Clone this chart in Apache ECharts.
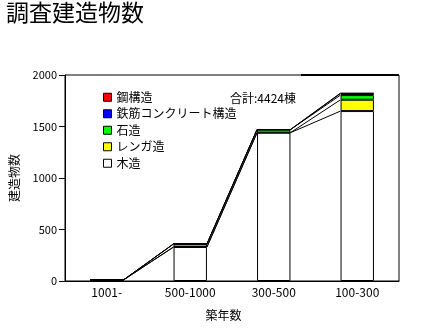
<!DOCTYPE html>
<html><head><meta charset="utf-8">
<script src="https://cdn.jsdelivr.net/npm/echarts@6/dist/echarts.min.js"></script>
<style>html,body{margin:0;padding:0;background:#fff}#c{width:424px;height:333px}</style>
</head><body><div id="c"></div>
<script>
var categories = ['1001-', '500-1000', '300-500', '100-300'];
var wood   = [10, 330, 1440, 1650];   // 木造
var brick  = [0, 0, 0, 110];          // レンガ造
var stone  = [0, 30, 30, 45];         // 石造
var rc     = [0, 0, 0, 15];           // 鉄筋コンクリート構造
var steel  = [0, 0, 0, 5];            // 鋼構造
var yTicks = [0, 500, 1000, 1500, 2000];
var totalLabel = '合計:4424棟';

var stackOrder = [
  {name: '木造', data: wood, color: '#ffffff'},
  {name: 'レンガ造', data: brick, color: '#ffff00'},
  {name: '石造', data: stone, color: '#00ff00'},
  {name: '鉄筋コンクリート構造', data: rc, color: '#0000ff'},
  {name: '鋼構造', data: steel, color: '#ff0000'}
];
var cum = [];
var run = categories.map(function(){return 0;});
stackOrder.forEach(function(s){
  run = run.map(function(v,i){return v + s.data[i];});
  cum.push(run.slice());
});
var lineData = [];
for (var i = 0; i < categories.length - 1; i++) {
  for (var k = 0; k < cum.length; k++) lineData.push([i, k]);
}
var FONT = '"Noto Sans CJK JP", sans-serif';
var chart = echarts.init(document.getElementById('c'));
var series = stackOrder.map(function(s){
  return {
    name: s.name, type: 'bar', stack: 'all', barWidth: '40%',
    data: s.data,
    itemStyle: {color: s.color, borderColor: '#000', borderWidth: 1},
    emphasis: {disabled: true}, animation: false
  };
});
series.push({
  type: 'custom', name: 'series-lines', silent: true, animation: false,
  data: lineData,
  renderItem: function(params, api){
    var p = lineData[params.dataIndex];
    var i = p[0], k = p[1];
    var band = api.size([1, 0])[0];
    var half = band * 0.2;
    var a = api.coord([i, cum[k][i]]);
    var b = api.coord([i + 1, cum[k][i + 1]]);
    return {type: 'line', shape: {x1: a[0] + half, y1: a[1], x2: b[0] - half, y2: b[1]},
      style: {stroke: '#000', lineWidth: 1}};
  },
  z: 3
});
chart.setOption({
  animation: false,
  title: [
    {text: '調査建造物数', left: 6, top: 1, padding: 0,
     textStyle: {fontFamily: FONT, fontSize: 23, fontWeight: 'normal', color: '#000'}},
    {text: totalLabel, left: 230, top: 92, padding: 0,
     textStyle: {fontFamily: FONT, fontSize: 12, fontWeight: 'normal', color: '#000'}}
  ],
  legend: {
    orient: 'vertical', left: 103, top: 91, padding: 0,
    data: ['鋼構造', '鉄筋コンクリート構造', '石造', 'レンガ造', '木造'],
    icon: 'rect', itemWidth: 8, itemHeight: 8, itemGap: 4,
    itemStyle: {borderColor: '#000', borderWidth: 1},
    textStyle: {fontFamily: FONT, fontSize: 12, color: '#000', lineHeight: 12.5},
    selectedMode: false
  },
  grid: {left: 64, right: 25, top: 75, bottom: 52, show: true, borderColor: '#000', borderWidth: 1, containLabel: false},
  xAxis: {
    type: 'category', data: categories,
    name: '築年数', nameLocation: 'middle', nameGap: 28,
    nameTextStyle: {fontFamily: FONT, fontSize: 12, color: '#000', padding: [0, 17, 0, 0]},
    axisLine: {lineStyle: {color: '#000'}}, axisTick: {show: false},
    axisLabel: {fontFamily: FONT, fontSize: 12, color: '#000', margin: 5}
  },
  yAxis: {
    type: 'value', min: 0, max: 2000, interval: 500,
    name: '建造物数', nameLocation: 'middle', nameGap: 45,
    nameTextStyle: {fontFamily: FONT, fontSize: 12, color: '#000'},
    axisLine: {show: true, lineStyle: {color: '#000'}},
    axisTick: {show: true, length: 6, lineStyle: {color: '#000'}},
    splitLine: {show: false},
    axisLabel: {fontFamily: FONT, fontSize: 11, color: '#000', margin: 8, padding: [4, 0, 0, 0],
      formatter: function(v){ return yTicks.indexOf(v) >= 0 ? String(v) : ''; }}
  },
  graphic: [{type: 'line', shape: {x1: 301, y1: 75, x2: 399, y2: 75}, style: {stroke: '#000', lineWidth: 2}, z: 10}],
  series: series
});
</script></body></html>
